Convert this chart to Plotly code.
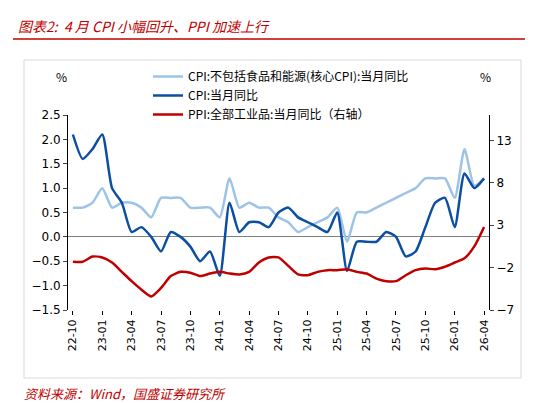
import plotly.graph_objects as go

months = []
for y in range(2022, 2027):
    for m in range(1, 13):
        if (y == 2022 and m < 10) or (y == 2026 and m > 4):
            continue
        months.append(f"{y%100:02d}-{m:02d}")

core_cpi = [0.6,0.6,0.7,1.0,0.6,0.7,0.7,0.6,0.4,0.8,0.8,0.8,0.6,0.6,0.6,0.4,1.2,0.6,0.7,0.6,0.6,0.4,0.3,0.1,0.2,0.3,0.4,0.6,-0.1,0.5,0.5,0.6,0.7,0.8,0.9,1.0,1.2,1.2,1.2,0.8,1.8,1.05,1.2]
cpi = [2.1,1.6,1.8,2.1,1.0,0.7,0.1,0.2,0.0,-0.3,0.1,0.0,-0.2,-0.5,-0.3,-0.8,0.7,0.1,0.3,0.3,0.2,0.5,0.6,0.4,0.3,0.2,0.1,0.5,-0.7,-0.1,-0.1,-0.1,0.1,0.0,-0.4,-0.3,0.2,0.7,0.8,0.2,1.3,1.0,1.2]
ppi = [-1.3,-1.3,-0.7,-0.8,-1.4,-2.5,-3.6,-4.6,-5.4,-4.4,-3.0,-2.5,-2.6,-3.0,-2.7,-2.5,-2.7,-2.8,-2.5,-1.4,-0.8,-0.8,-1.8,-2.8,-2.9,-2.5,-2.3,-2.3,-2.2,-2.5,-2.7,-3.3,-3.6,-3.6,-2.9,-2.3,-2.1,-2.2,-1.9,-1.4,-0.9,0.5,2.8]
tick_months = months[::3]

names = ["CPI:不包括食品和能源(核心CPI):当月同比", "CPI:当月同比", "PPI:全部工业品:当月同比（右轴）"]
font = "Noto Sans CJK SC"

def px(x): return (x-60)/421
def py(y): return 1-(y-107)/195

fig = go.Figure()
fig.add_trace(go.Scatter(x=months, y=core_cpi, name=names[0], mode="lines",
                         line=dict(color="#9DC3E6", width=2.5, shape="spline", smoothing=0.6)))
fig.add_trace(go.Scatter(x=months, y=cpi, name=names[1], mode="lines",
                         line=dict(color="#0B4EA2", width=2.5, shape="spline", smoothing=0.6)))
fig.add_trace(go.Scatter(x=months, y=ppi, name=names[2], mode="lines", yaxis="y2",
                         line=dict(color="#C00000", width=2.5, shape="spline", smoothing=0.6)))

fig.update_layout(
    width=533, height=403, paper_bgcolor="white", plot_bgcolor="white",
    margin=dict(l=60, r=52, t=107, b=101, autoexpand=False),
    font=dict(family=font, size=12, color="black"),
    showlegend=True,
    legend=dict(x=px(140), y=py(54), xanchor="left", yanchor="top",
                bgcolor="rgba(0,0,0,0)", font=dict(size=12), tracegroupgap=0),
    xaxis=dict(type="category", tickvals=tick_months, ticktext=tick_months, tickangle=-90,
               showgrid=False, showline=False, ticks="outside", ticklen=4, tickcolor="black",
               tickfont=dict(family="DejaVu Sans", size=11), range=[-0.5, 42.5]),
    yaxis=dict(range=[-1.5, 2.5], dtick=0.5, tickformat=".1f", showgrid=False,
               showline=True, linecolor="black", ticks="outside", ticklen=4,
               zeroline=True, zerolinecolor="#808080", zerolinewidth=1,
               tickfont=dict(family="DejaVu Sans", size=12)),
    yaxis2=dict(range=[-7, 16], tickvals=[-7,-2,3,8,13], overlaying="y", side="right",
                showgrid=False, showline=True, linecolor="black", ticks="outside", ticklen=4,
                zeroline=False, tickfont=dict(family="DejaVu Sans", size=12)),
)
anns = [
    dict(text="<i>图表2:  4 月 CPI 小幅回升、PPI 加速上行</i>", x=8, y=6, size=14, color="#C00000"),
    dict(text="<i>资料来源：Wind，国盛证券研究所</i>", x=14, y=374, size=13, color="#C00000"),
    dict(text="%", x=46, y=58, size=12, color="black"),
    dict(text="%", x=470, y=58, size=12, color="black"),
]
for a in anns:
    fig.add_annotation(text=a["text"], xref="paper", yref="paper",
                       x=px(a["x"]), y=py(a["y"]),
                       showarrow=False, xanchor="left", yanchor="top",
                       font=dict(size=a["size"], color=a["color"], family=font))
fig.add_shape(type="line", xref="paper", yref="paper", x0=px(5), x1=px(528), y0=py(31), y1=py(31),
              line=dict(color="#C00000", width=1.5))
fig.add_shape(type="rect", xref="paper", yref="paper", x0=px(16), x1=px(513), y0=py(52), y1=py(370),
              line=dict(color="#D9D9D9", width=1))
fig.write_html("out.html")
